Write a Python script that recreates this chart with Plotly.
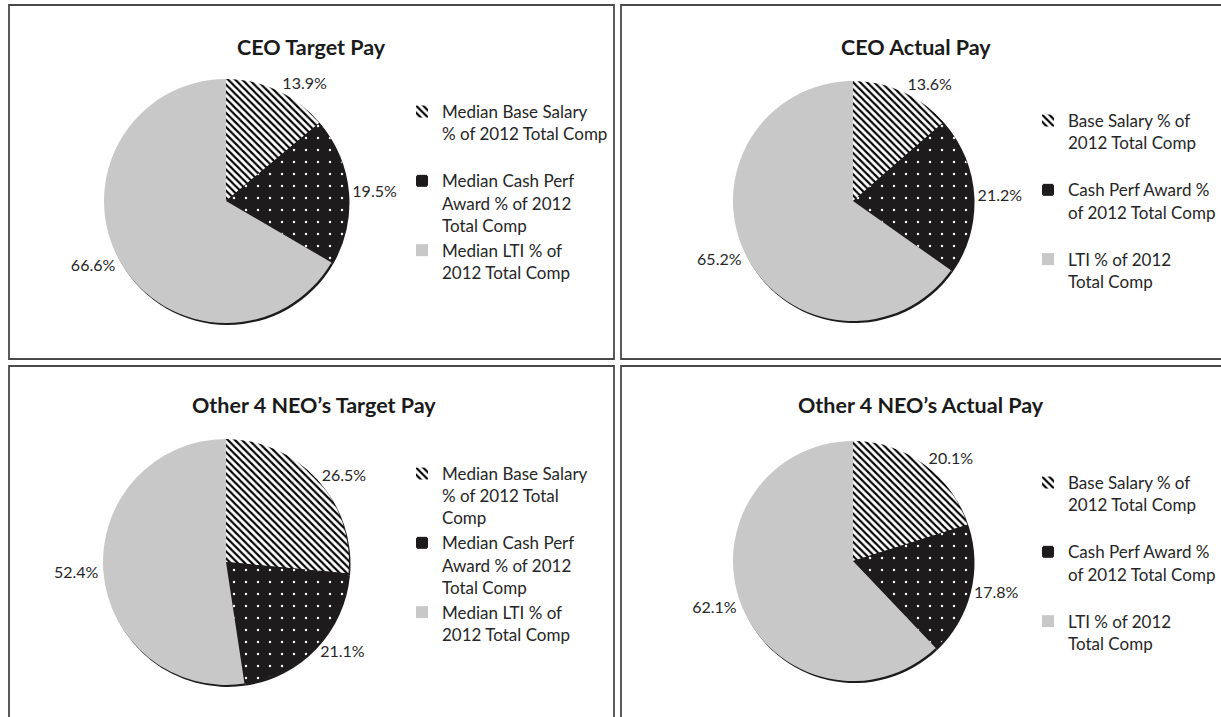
import plotly.graph_objects as go

W, H = 1221, 717
FONT = "Lato, Carlito, Calibri, sans-serif"
TXT = "#262626"

# ---------------- data ----------------
titles = ["CEO Target Pay", "CEO Actual Pay",
          "Other 4 NEO\u2019s Target Pay", "Other 4 NEO\u2019s Actual Pay"]

labels_ceo_target = ["Median Base Salary<br>% of 2012 Total Comp<br> ",
                     "Median Cash Perf<br>Award % of 2012<br>Total Comp",
                     "Median LTI % of<br>2012 Total Comp"]
labels_actual = ["Base Salary % of<br>2012 Total Comp<br> ",
                 "Cash Perf Award %<br>of 2012 Total Comp<br> ",
                 "LTI % of 2012<br>Total Comp"]
labels_neo_target = ["Median Base Salary<br>% of 2012 Total<br>Comp",
                     "Median Cash Perf<br>Award % of 2012<br>Total Comp",
                     "Median LTI % of<br>2012 Total Comp"]

values_ceo_target = [13.9, 19.5, 66.6]
values_ceo_actual = [13.6, 21.2, 65.2]
values_neo_target = [26.5, 21.1, 52.4]
values_neo_actual = [20.1, 17.8, 62.1]

# ---------------- layout helpers (pixels -> paper) ----------------
def px(x):
    return x / W

def py(y):
    return 1 - y / H

panels = [
    dict(values=values_ceo_target, labels=labels_ceo_target, c=(226, 201), r=122,
         title=(311, 47), leg=(442, 112)),
    dict(values=values_ceo_actual, labels=labels_actual, c=(853, 201), r=120,
         title=(916, 47), leg=(1068, 121)),
    dict(values=values_neo_target, labels=labels_neo_target, c=(226, 562), r=123,
         title=(314, 405), leg=(442, 474)),
    dict(values=values_neo_actual, labels=labels_actual, c=(853, 561), r=120,
         title=(921, 405), leg=(1068, 483)),
]

BLACK = "#1e1b1c"
GREY = "#c8c8c8"

fig = go.Figure()
layout_legends = {}
annotations = []

for i, p in enumerate(panels):
    cx, cy = p["c"]
    r = p["r"]
    legname = "legend" if i == 0 else f"legend{i+1}"
    # keep each panel's legend entries distinct (pie labels are shared across traces)
    labs = [lab + "\u200b" * (i + 1) for lab in p["labels"]]
    shadow_labs = [lab + "\u200b" * (i + 10) for lab in p["labels"]]
    # subtle dark rim (shadow) behind pie
    fig.add_trace(go.Pie(
        values=p["values"], labels=shadow_labs, sort=False, direction="clockwise",
        marker=dict(colors=[BLACK] * 3, line=dict(width=0)),
        textinfo="none", hoverinfo="skip", showlegend=False, legend=legname,
        domain=dict(x=[px(cx - r + 1.5), px(cx + r + 1.5)],
                    y=[py(cy + r + 2), py(cy - r + 2)]),
    ))
    fig.add_trace(go.Pie(
        values=p["values"], labels=labs, sort=False, direction="clockwise",
        marker=dict(colors=["white", BLACK, GREY], line=dict(width=0),
                    pattern=dict(shape=["\\", ".", ""],
                                 fgcolor=["black", "white", GREY],
                                 bgcolor=["white", BLACK, GREY],
                                 size=[5, 12, 8], solidity=[0.42, 0.03, 0.2],
                                 fillmode="replace")),
        texttemplate="%{value:.1f}%", textposition="outside",
        outsidetextfont=dict(size=16, color=TXT, family=FONT),
        hoverinfo="percent", legend=legname,
        domain=dict(x=[px(cx - r), px(cx + r)], y=[py(cy + r), py(cy - r)]),
    ))
    lx, ly = p["leg"]
    layout_legends[legname] = dict(
        x=px(lx - 40), y=py(ly - 18), xanchor="left", yanchor="top",
        bgcolor="rgba(0,0,0,0)", borderwidth=0, valign="top",
        font=dict(size=17, family=FONT, color=TXT), tracegroupgap=0,
        itemclick=False, itemdoubleclick=False,
    )
    tx, ty = p["title"]
    annotations.append(dict(
        text=f"<b>{titles[i]}</b>", x=px(tx), y=py(ty), xref="paper", yref="paper",
        xanchor="center", yanchor="middle", showarrow=False,
        font=dict(size=21.5, family=FONT, color="#1a1a1a"),
    ))

# panel frames
frames = [(9, 5, 614, 359), (621, 5, 1226, 359), (9, 366, 614, 722), (621, 366, 1226, 722)]
shapes = [dict(type="rect", xref="paper", yref="paper",
               x0=px(a), x1=px(c), y0=py(d), y1=py(b),
               line=dict(color="#4a4a4a", width=1.8), fillcolor="rgba(0,0,0,0)")
          for a, b, c, d in frames]

fig.update_layout(
    width=W, height=H, margin=dict(l=0, r=0, t=0, b=0),
    paper_bgcolor="white", plot_bgcolor="white",
    font=dict(family=FONT, color=TXT),
    annotations=annotations, shapes=shapes,
    **layout_legends,
)

fig.write_html("out.html")
